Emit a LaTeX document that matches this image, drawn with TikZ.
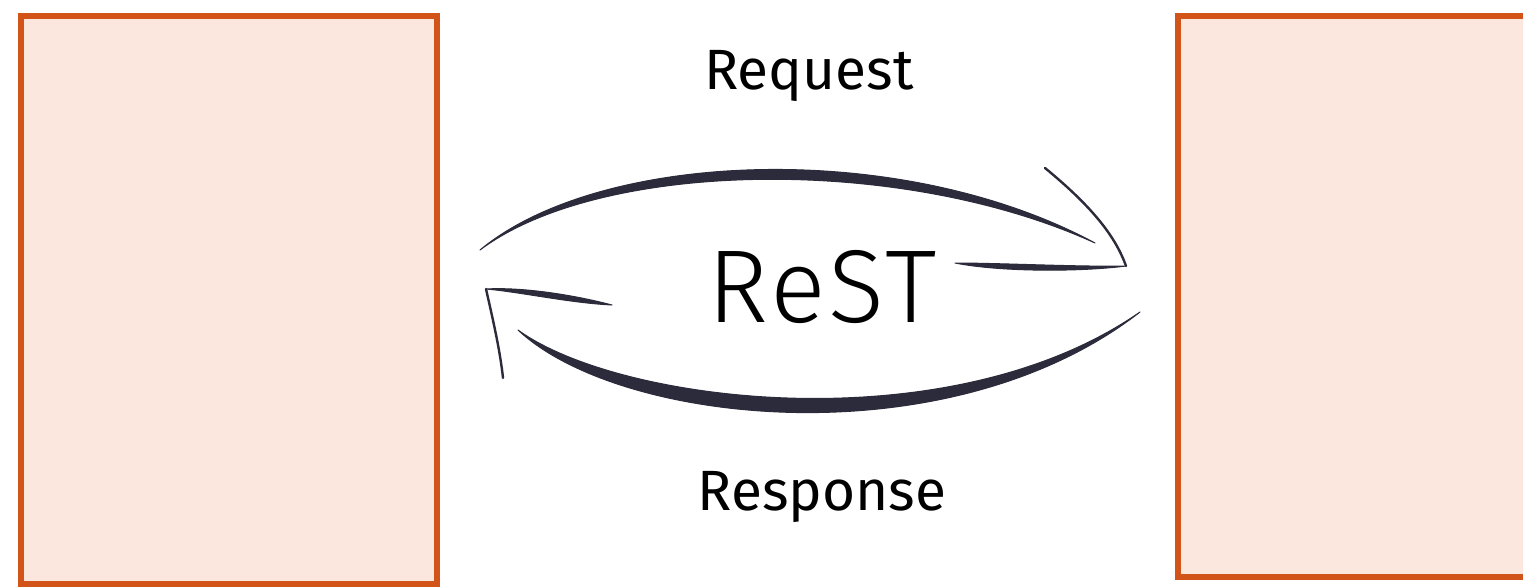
\documentclass[tikz,border=0pt]{standalone}
\usepackage{fontspec}
\setmainfont{Fira Sans}
\newfontfamily\restfont{Fira Sans Light}[LetterSpace=3]
\definecolor{boxline}{HTML}{D35419}
\definecolor{boxfill}{HTML}{FBE7DD}
\definecolor{ink}{HTML}{2B2B3B}
\tikzset{
  panel/.style={draw=boxline, fill=boxfill, line width=6bp},
  thinstroke/.style={draw=ink, line width=2.4bp, line cap=round},
  inkfill/.style={fill=ink, draw=ink, line width=1bp, line join=round},
  label/.style={font=\fontsize{57}{64}\selectfont, inner sep=0pt},
}
\begin{document}
\begin{tikzpicture}[x=1bp, y=-1bp]
\clip (0,0) rectangle (1523,587);
\fill[white] (0,0) rectangle (1523,587);

% client and server panels
\draw[panel] (21,16) rectangle (437,584);
\draw[panel] (1178,16) rectangle (1560,577);

% labels
\node[label] (req) at (809,76) {Request};
\node[label] (resp) at (822,497) {Response};
\node[font=\restfont\fontsize{104}{112}\selectfont, inner sep=0pt] (rest) at (822,287) {ReST};

% request arc (tapered stroke)
\coordinate (qa) at (480,250);
\coordinate (qb) at (1095,243);
\fill[inkfill] (qa) .. controls (600,150) and (900,138) .. (qb)
  .. controls (900,154) and (600,160) .. (qa) -- cycle;
% request arrowhead
\coordinate (qtip) at (1126,266);
\coordinate (qw) at (1045,168);
\draw[thinstroke] (qw) .. controls (1090,205) and (1115,235) .. (qtip);
\coordinate (qr) at (955,263);
\fill[inkfill] (qr) .. controls (1000,272) and (1080,272) .. (qtip)
  .. controls (1080,267) and (1000,263) .. (qr) -- cycle;

% response arc (tapered stroke)
\coordinate (pa) at (518,330);
\coordinate (pb) at (1140,312);
\fill[inkfill] (pa) .. controls (620,426) and (950,460) .. (pb)
  .. controls (950,444) and (620,404) .. (pa) -- cycle;
% response arrowhead
\coordinate (ptip) at (486,289);
\coordinate (pl) at (612,305);
\fill[inkfill] (pl) .. controls (570,303) and (520,292) .. (ptip)
  .. controls (520,287) and (570,294) .. (pl) -- cycle;
\coordinate (pd) at (503,378);
\draw[thinstroke] (ptip) .. controls (493,320) and (500,350) .. (pd);
\end{tikzpicture}
\end{document}
